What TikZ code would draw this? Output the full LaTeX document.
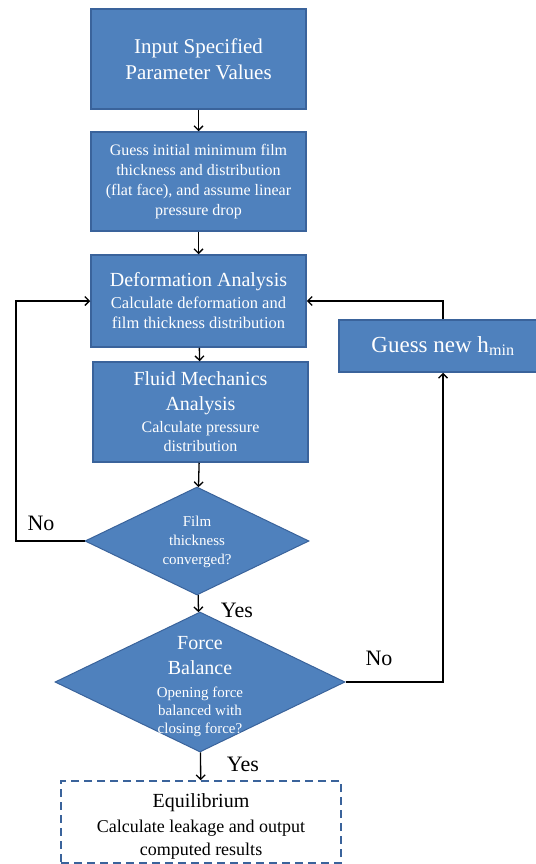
\documentclass[tikz,border=0pt]{standalone}
\usepackage{fontspec}
\setmainfont{Liberation Serif}
\usetikzlibrary{shapes.geometric,arrows.meta}
\definecolor{boxblue}{HTML}{4F81BD}
\definecolor{boxedge}{HTML}{3A639B}

\begin{document}
\begin{tikzpicture}[x=1pt,y=-1pt,
	proc/.style={ rectangle, draw=boxedge, line width=1.5pt, fill=boxblue, text=white, align=center, inner sep=2pt, minimum width=215pt },
	decide/.style={ diamond, draw=boxedge, line width=1pt, fill=boxblue, inner sep=0pt },
	dtext/.style={ text=white, align=center, inner sep=0pt },
	endbox/.style={ rectangle, draw=boxedge, line width=1.5pt, dash pattern=on 8pt off 5pt, inner sep=0pt },
	flow/.style={ line width=1.3pt, -{Straight Barb[length=4.5pt,width=9pt]} },
	answer/.style={ font=\fontsize{22}{24}\selectfont, inner sep=0pt }
]
\useasboundingbox (0,0) rectangle (535,864);

\node at (198.5,59) (input) [proc,minimum height=100pt,font=\fontsize{21}{26}\selectfont] {Input Specified\\Parameter Values};

\node at (198.5,181.5) (guess) [proc,minimum height=99pt,font=\fontsize{16}{20}\selectfont] {Guess initial minimum film\\thickness and distribution\\(flat face), and assume linear\\pressure drop};
\draw[flow] (input) to (guess);

\node at (198.5,301) (deform) [proc,minimum height=92pt,font=\fontsize{16.5}{20}\selectfont] {{\fontsize{20}{24}\selectfont Deformation Analysis}\\[2pt]Calculate deformation and\\film thickness distribution};
\draw[flow] (guess) to (deform);

\node at (200.5,412) (fluid) [proc,minimum height=100pt,font=\fontsize{16}{19}\selectfont] {{\fontsize{20}{24}\selectfont Fluid Mechanics}\\[6pt]{\fontsize{20}{24}\selectfont Analysis}\\[3pt]Calculate pressure\\distribution};
\draw[flow] (deform) to (fluid);

\node at (197,541) (conv) [decide,minimum width=224pt,minimum height=108pt] {};
\node at (197,542) (convtxt) [dtext,font=\fontsize{15}{19}\selectfont] {Film\\thickness\\converged?};
\draw[flow] (fluid) to (conv);

\node at (200,682) (force) [decide,minimum width=290pt,minimum height=140pt] {};
\node at (200,687) (forcetxt) [dtext,font=\fontsize{15}{18}\selectfont] {{\fontsize{20}{25}\selectfont Force}\\[7pt]{\fontsize{20}{25}\selectfont Balance}\\[5pt]Opening force\\balanced with\\closing force?};
\draw[flow] (conv) to (force);
\node at (237,610) (yes1) [answer] {Yes};

\node at (201,822) (equil) [endbox,minimum width=280pt,minimum height=82pt] {};
\node at (201,826) (equiltxt) [align=center,inner sep=0pt,font=\fontsize{18}{23}\selectfont] {{\fontsize{20}{24}\selectfont Equilibrium}\\[2pt]Calculate leakage and output\\computed results};
\draw[flow] (force) to (equil);
\node at (243,764) (yes2) [answer] {Yes};

\node at (443,346) (newh) [proc,minimum width=208pt,minimum height=52pt,font=\fontsize{23}{27}\selectfont] {Guess new h\textsubscript{min}};

\coordinate (back) at (16,301);
\draw[flow] (conv.west) -| (back) -- (deform.west);
\node at (41,523) (no1) [answer] {No};

\draw[flow] (force.east) -| (newh.south);
\node at (379,658) (no2) [answer] {No};
\draw[flow] (newh.north) |- (deform.east);

\end{tikzpicture}
\end{document}
